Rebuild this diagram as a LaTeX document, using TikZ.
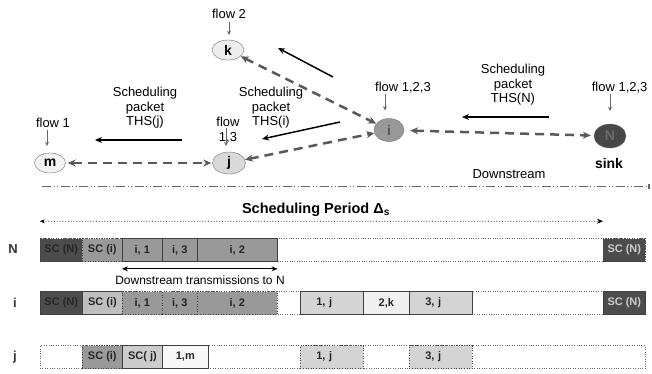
\documentclass[tikz,border=0pt]{standalone}
\usepackage{fontspec}
\setmainfont{Liberation Sans}
\usetikzlibrary{shapes.geometric,arrows.meta}

\begin{document}
\begin{tikzpicture}[x=1pt,y=-1pt,
    font=\fontsize{13}{14.5}\selectfont,
    sensor/.style={draw=black!55, ellipse, inner sep=0pt, font=\fontsize{14}{16}\bfseries},
    flowarrow/.style={-{Stealth[length=4pt,width=4pt]}, black!60, line width=0.7pt},
    radiolink/.style={{Stealth[length=8pt,width=7pt]}-{Stealth[length=8pt,width=7pt]}, black!65, line width=2.5pt, dash pattern=on 9pt off 6pt},
    pktarrow/.style={-{Stealth[length=7pt,width=6pt]}, line width=1.5pt},
    rowbox/.style={draw=black!60, dotted, minimum height=23, inner sep=0pt},
    slot/.style={draw=black!75, line width=0.6pt, minimum height=23, inner sep=0pt, anchor=west, font=\fontsize{11}{12}\bfseries, text=black!85},
    dotslot/.style={slot, dotted},
]
\useasboundingbox (0,0) rectangle (652,373);

% nodes of the tree
\node (k) at (228,50) [sensor, minimum width=32, minimum height=20, fill=black!7] {k};
\node (m) at (50,163) [sensor, minimum width=31, minimum height=20, fill=black!5] {m};
\node (j) at (229,163) [sensor, minimum width=33, minimum height=22, fill=black!15] {j};
\node (i) at (389,130) [sensor, minimum width=30, minimum height=23, fill=black!40, text=black!65] {i};
\node (N) at (610,136) [sensor, minimum width=32, minimum height=24, fill=black!72, text=black!58] {N};
\node (sink) at (609,163) [font=\fontsize{14}{16}\bfseries] {sink};

% flows
\node (flowk) at (229,14) {flow 2};
\node (flowm) at (53,123) {flow 1};
\node (flowj) at (228,130) [align=center] {flow\\1,3};
\node (flowi) at (403,88) {flow 1,2,3};
\node (flowN) at (651,88) [anchor=east] {flow 1,2,3};
\coordinate (fk) at (229,22);
\coordinate (fm) at (47,130);
\coordinate (fj) at (226,128);
\coordinate (fi) at (385,94);
\coordinate (fN) at (610,94);
\draw[flowarrow, shorten >=5pt] (fk) -- (fk |- k.north);
\draw[flowarrow, shorten >=7pt] (fm) -- (fm |- m.north);
\draw[flowarrow, shorten >=6pt] (fj) -- (fj |- j.north);
\draw[flowarrow, shorten >=8pt] (fi) -- (fi |- i.north);
\draw[flowarrow, shorten >=13pt] (fN) -- (fN |- N.north);

% scheduling packets
\node (pktN) at (513,85) [align=center] {Scheduling\\packet\\THS(N)};
\node (pktj) at (145,108) [align=center] {Scheduling\\packet\\THS(j)};
\node (pkti) at (271,108) [align=center] {Scheduling\\packet\\THS(i)};
\coordinate (aN1) at (549,117);
\coordinate (aN2) at (462,117);
\coordinate (aj1) at (182,140);
\coordinate (aj2) at (95,140);
\coordinate (ai1) at (340,122);
\coordinate (ai2) at (262,139);
\coordinate (ak1) at (333,77);
\coordinate (ak2) at (278,48);
\draw[pktarrow] (aN1) -- (aN2);
\draw[pktarrow] (aj1) -- (aj2);
\draw[pktarrow] (ai1) -- (ai2);
\draw[pktarrow] (ak1) -- (ak2);

\draw[radiolink, shorten <=2pt, shorten >=1pt] (m) -- (j);
\draw[radiolink] (j) -- (i);
\draw[radiolink] (k) -- (i);
\draw[radiolink, shorten <=6pt, shorten >=3pt] (i) -- (N);
\node (down) at (509,174) {Downstream};

\coordinate (sepL) at (42,186);
\coordinate (sepR) at (650,186);
\draw[black!60, line width=0.8pt, dash pattern=on 9pt off 2.5pt on 1pt off 2.5pt on 1pt off 2.5pt, -{Rectangle[length=2.5pt,width=5pt]}] (sepL) -- (sepR);

% time slots
\node (period) at (316,210) [font=\fontsize{14.5}{16}\bfseries] {Scheduling Period Δ\textsubscript{s}};
\node (rowN) at (342.5,250) [rowbox, minimum width=605] {};
\node (rowi) at (342.5,303) [rowbox, minimum width=605] {};
\node (rowj) at (342.5,357) [rowbox, minimum width=605] {};
\node (labN) at (13,249) [font=\fontsize{13}{15}\bfseries, text=black!80] {N};
\node (labi) at (15,303) [font=\fontsize{13}{15}\bfseries, text=black!80] {i};
\node (labj) at (15,357) [font=\fontsize{13}{15}\bfseries, text=black!80] {j};

\node (Nsc1) at (40,250) [dotslot, minimum width=42, fill=black!70] {SC (N)};
\node (Nsci) at (82,250) [dotslot, minimum width=40, fill=black!40] {SC (i)};
\node (Ni1) at (122,250) [slot, minimum width=40, fill=black!40] {i, 1};
\node (Ni3) at (162,250) [slot, minimum width=35, fill=black!40] {i, 3};
\node (Ni2) at (197,250) [slot, minimum width=80, fill=black!40] {i, 2};
\node (Nsc2) at (603,250) [dotslot, minimum width=42, fill=black!70, text=black!20] {SC (N)};

\node (isc1) at (40,303) [slot, minimum width=42, fill=black!70] {SC (N)};
\node (isci) at (82,303) [slot, minimum width=40, fill=black!25, line width=0.9pt] {SC (i)};
\node (ii1) at (122,303) [dotslot, minimum width=40, fill=black!40] {i, 1};
\node (ii3) at (162,303) [dotslot, minimum width=35, fill=black!40] {i, 3};
\node (ii2) at (197,303) [dotslot, minimum width=80, fill=black!40] {i, 2};
\node (i1j) at (300,303) [slot, inner xsep=16pt, text width=31pt, fill=black!17] {1, j};
\node (i2k) at (363,303) [slot, minimum width=46, fill=black!6] {2,k};
\node (i3j) at (409,303) [slot, inner xsep=16pt, text width=31pt, fill=black!17] {3, j};
\node (isc2) at (603,303) [slot, minimum width=42, fill=black!70, text=black!20] {SC (N)};

\node (jsci) at (82,357) [dotslot, minimum width=40, fill=black!40] {SC (i)};
\node (jscj) at (122,357) [slot, minimum width=40, fill=black!20, line width=0.9pt] {SC( j)};
\node (j1m) at (162,357) [slot, minimum width=46, fill=black!3] {1,m};
\node (j1j) at (300,357) [dotslot, inner xsep=16pt, text width=31pt, fill=black!17] {1, j};
\node (j3j) at (409,357) [dotslot, inner xsep=16pt, text width=31pt, fill=black!17] {3, j};

\draw[dotted, line width=0.8pt, {Stealth[length=5pt,width=4pt]}-{Stealth[length=6pt,width=5pt]}] ([yshift=17pt]rowN.north west) -- ([yshift=17pt]Nsc2.north west);
\draw[line width=1pt, {Stealth[length=6pt,width=5pt]}-{Stealth[length=6pt,width=5pt]}] ([yshift=-7pt]Ni1.south west) -- ([yshift=-7pt]Ni2.south east);
\node (downtx) at (200,280) [font=\fontsize{12}{14}\selectfont] {Downstream transmissions to N};
\end{tikzpicture}
\end{document}
